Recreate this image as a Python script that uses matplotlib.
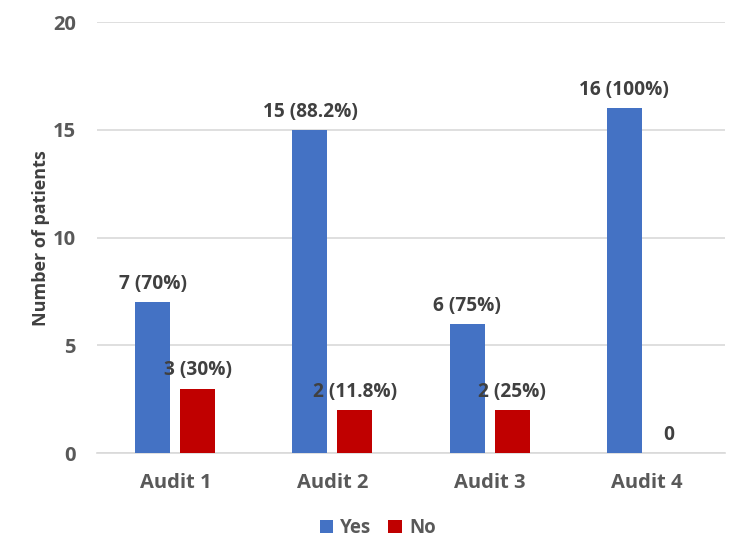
import matplotlib
matplotlib.use("Agg")
import matplotlib.pyplot as plt
import numpy as np

categories = ["Audit 1", "Audit 2", "Audit 3", "Audit 4"]
yes_vals = [7, 15, 6, 16]
no_vals = [3, 2, 2, 0]
yes_labels = ["7 (70%)", "15 (88.2%)", "6 (75%)", "16 (100%)"]
no_labels = ["3 (30%)", "2 (11.8%)", "2 (25%)", "0"]
yticks = [0, 5, 10, 15, 20]

plt.rcParams['font.family'] = ['Open Sans', 'DejaVu Sans']
plt.rcParams['font.weight'] = 'bold'

fig = plt.figure(figsize=(7.5, 5.56), dpi=100)
ax = fig.add_axes([0.129, 0.185, 0.838, 0.775])

x = np.arange(len(categories))
w = 0.223
off = 0.143
b1 = ax.bar(x - off, yes_vals, w, color="#4472C4", label="Yes", zorder=3)
b2 = ax.bar(x + off, no_vals, w, color="#C00000", label="No", zorder=3)

for rect, lab in zip(b1, yes_labels):
    ax.annotate(lab, (rect.get_x() + rect.get_width() / 2, rect.get_height()),
                xytext=(0, 6), textcoords="offset points", ha="center", va="bottom",
                fontsize=13.8, fontweight="bold", color="#404040")
for rect, lab in zip(b2, no_labels):
    ax.annotate(lab, (rect.get_x() + rect.get_width() / 2, rect.get_height()),
                xytext=(0, 6), textcoords="offset points", ha="center", va="bottom",
                fontsize=13.8, fontweight="bold", color="#404040")

ax.set_xlim(-0.5, 3.5)
ax.set_ylim(0, 20)
ax.set_yticks(yticks)
ax.set_xticks(x)
ax.set_xticklabels(categories)
ax.tick_params(axis='both', length=0, labelsize=14.5, labelcolor="#595959")
ax.tick_params(axis='x', pad=14)
ax.tick_params(axis='y', pad=15)
for t in ax.get_xticklabels() + ax.get_yticklabels():
    t.set_fontweight("bold")
ax.yaxis.grid(True, color="#D9D9D9", linewidth=1.2, zorder=0)
for s in ["top", "right", "left"]:
    ax.spines[s].set_visible(False)
ax.spines["bottom"].set_color("#D9D9D9")
ax.spines["bottom"].set_linewidth(1.2)
ax.set_ylabel("Number of patients", fontsize=13, fontweight="bold", color="#404040", labelpad=2)

ax.legend(loc="center", bbox_to_anchor=(0.447, -0.174), ncol=2, frameon=False,
          prop={'weight': 'bold', 'size': 13.5}, labelcolor="#595959",
          handlelength=0.7, handleheight=0.7, handletextpad=0.4, columnspacing=0.9)

fig.savefig("out.png", dpi=100)
